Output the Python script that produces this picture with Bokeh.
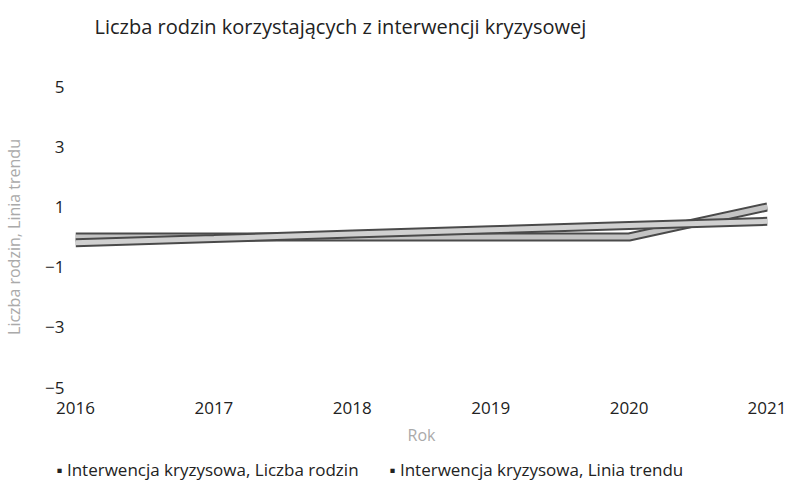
from bokeh.plotting import figure
from bokeh.models import FixedTicker, ColumnDataSource, Title
from bokeh.embed import file_html
from bokeh.resources import INLINE

years = [2016, 2017, 2018, 2019, 2020, 2021]
liczba_rodzin = [0, 0, 0, 0, 0, 1]
linia_trendu = [-0.19, -0.05, 0.10, 0.24, 0.38, 0.52]
y_ticks = [-5, -3, -1, 1, 3, 5]
title_text = "Liczba rodzin korzystających z interwencji kryzysowej"
legend_labels = ["Interwencja kryzysowa, Liczba rodzin", "Interwencja kryzysowa, Linia trendu"]

FONT = "Open Sans"

p = figure(frame_width=692, frame_height=301, output_backend="svg", toolbar_location=None,
           x_range=(2016, 2021), y_range=(-5, 5), title=None,
           min_border_left=68, min_border_right=19, min_border_top=86, min_border_bottom=0)

p.add_layout(Title(text=" ", text_font_size="1px", standoff=40), "above")
p.add_layout(Title(text=title_text, text_font=FONT, text_font_size="20px",
                   text_font_style="normal", text_color="#222222",
                   offset=19, standoff=8), "above")

p.outline_line_color = None
p.xgrid.grid_line_color = None
p.ygrid.grid_line_color = None

for ax in (p.xaxis[0], p.yaxis[0]):
    ax.axis_line_color = None
    ax.major_tick_line_color = None
    ax.minor_tick_line_color = None
    ax.major_tick_out = 0
    ax.major_tick_in = 0
    ax.minor_tick_out = 0
    ax.minor_tick_in = 0
    ax.major_label_text_font = FONT
    ax.major_label_text_font_size = "17px"
    ax.major_label_text_color = "#222222"
    ax.axis_label_text_font = FONT
    ax.axis_label_text_font_style = "normal"
    ax.axis_label_text_font_size = "16px"
    ax.axis_label_text_color = "#aaaaaa"

p.xaxis[0].ticker = FixedTicker(ticks=years)
p.xaxis[0].major_label_standoff = 14
p.xaxis[0].axis_label = "Rok"
p.xaxis[0].axis_label_standoff = 7
p.yaxis[0].ticker = FixedTicker(ticks=y_ticks)
p.yaxis[0].major_label_standoff = 11
p.yaxis[0].axis_label = "Liczba rodzin, Linia trendu"
p.yaxis[0].axis_label_standoff = 17

src = ColumnDataSource(dict(x=years, a=liczba_rodzin, t=linia_trendu))

p.line("x", "a", source=src, line_color="#4a4a4a", line_width=9)
p.line("x", "a", source=src, line_color="#c4c4c4", line_width=5)
p.line("x", "t", source=src, line_color="#4a4a4a", line_width=9)
p.line("x", "t", source=src, line_color="#d0d0d0", line_width=5)

# legend row below the x axis
gap = "\u00a0" * 7
legend_text = "\u25aa " + legend_labels[0] + gap + "\u25aa " + legend_labels[1]
p.add_layout(Title(text=legend_text, text_font=FONT, text_font_size="17px",
                   text_font_style="normal", text_color="#222222",
                   offset=-19, standoff=15), "below")

open("out.html", "w").write(file_html(p, INLINE))
